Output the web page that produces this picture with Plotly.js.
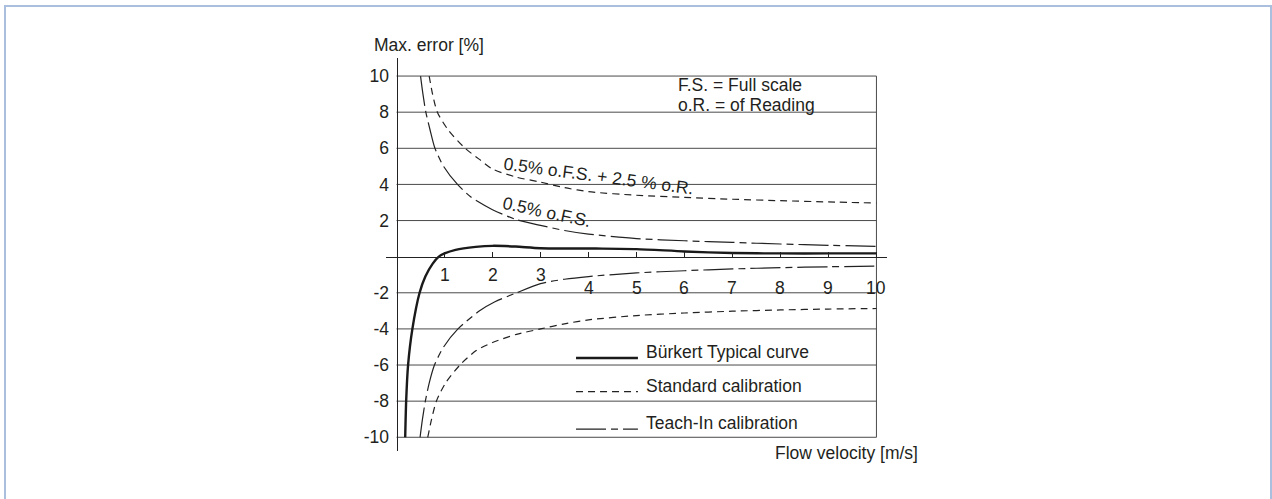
<!DOCTYPE html>
<html>
<head>
<meta charset="utf-8">
<script src="https://cdn.plot.ly/plotly-3.0.1.min.js"></script>
<style>
html,body{margin:0;padding:0;background:#fff;}
#chart{position:absolute;left:0;top:0;width:1272px;height:499px;}
#frame{position:absolute;left:4px;top:5px;width:1268px;height:520px;border:2px solid #a9bfdd;border-bottom:none;box-sizing:border-box;pointer-events:none;z-index:5;}
</style>
</head>
<body>
<div id="chart"></div>
<div id="frame"></div>
<script>
// ---- data ----
const seriesNames = ['Bürkert Typical curve', 'Standard calibration', 'Teach-In calibration'];

const burkertX = [0.18, 0.20, 0.24, 0.33, 0.48, 0.60, 0.75, 0.88, 1.00, 1.23, 1.65, 2.00, 2.48, 3.00, 4.15, 5.00, 6.00, 7.00, 8.00, 9.00, 10.00];
const burkertY = [-10, -8, -6, -4, -2, -1.1, -0.4, 0, 0.18, 0.38, 0.54, 0.60, 0.56, 0.47, 0.45, 0.42, 0.29, 0.20, 0.18, 0.18, 0.18];

const stdUpperX = [0.68, 0.75, 0.85, 1.08, 1.43, 1.72, 2.00, 2.50, 3.00, 3.50, 4.00, 5.00, 6.00, 7.00, 8.00, 9.00, 10.00];
const stdUpperY = [10, 9, 8, 7, 6, 5.4, 4.85, 4.4, 4.13, 3.82, 3.6, 3.4, 3.28, 3.18, 3.1, 3.03, 2.97];
const stdLowerX = [0.65, 0.73, 0.83, 1.02, 1.32, 1.66, 2.00, 2.50, 3.00, 3.50, 4.00, 5.00, 6.00, 7.00, 8.00, 9.00, 10.00];
const stdLowerY = [-10, -9, -8, -7, -6, -5.2, -4.75, -4.3, -4.0, -3.72, -3.5, -3.26, -3.12, -3.02, -2.95, -2.9, -2.87];

const teachUpperX = [0.50, 0.55, 0.61, 0.70, 0.80, 0.98, 1.27, 1.55, 2.00, 2.50, 3.00, 3.50, 4.00, 5.00, 6.00, 7.00, 8.00, 9.00, 10.00];
const teachUpperY = [10, 9, 8, 7, 6, 5, 4, 3.3, 2.6, 2.05, 1.73, 1.45, 1.25, 1.0, 0.88, 0.79, 0.70, 0.63, 0.57];
const teachLowerX = [0.49, 0.54, 0.60, 0.68, 0.79, 0.98, 1.28, 1.73, 2.05, 2.50, 3.00, 3.50, 4.00, 5.00, 6.00, 7.00, 8.00, 9.00, 10.00];
const teachLowerY = [-10, -9, -8, -7, -6, -5, -4, -3, -2.5, -2, -1.49, -1.25, -1.1, -0.9, -0.78, -0.68, -0.61, -0.56, -0.52];

const xTickVals = [1, 2, 3, 4, 5, 6, 7, 8, 9, 10];
const xTickText = ['1', '2', '3', '4', '5', '6', '7', '8', '9', '10'];
const yTickVals = [-10, -8, -6, -4, -2, 2, 4, 6, 8, 10];
const yTickText = ['-10', '-8', '-6', '-4', '-2', '2', '4', '6', '8', '10'];

const yTitle = 'Max. error [%]';
const xTitle = 'Flow velocity [m/s]';
const noteLines = ['F.S. = Full scale', 'o.R. = of Reading'];
const curveLabels = ['0.5% o.F.S. + 2.5 % o.R.', '0.5% o.F.S.'];

// ---- styling / layout ----
const FONT = 'Liberation Sans, Arial, Helvetica, sans-serif';
const INK = '#231f20';
const FS = 17.5;
const xRange = [-0.22, 10.22];
const yRange = [-10.76, 11.0];
const toPX = v => (v - xRange[0]) / (xRange[1] - xRange[0]);
const toPY = v => (v - yRange[0]) / (yRange[1] - yRange[0]);

const dashStd = '7px,5px';
const dashTeach = '30px,5px,7px,5px';
const spl = {shape: 'spline', smoothing: 0.7};

const traces = [
  {x: burkertX, y: burkertY, name: seriesNames[0], mode: 'lines',
   line: Object.assign({color: '#1a1a1a', width: 2.4}, spl)},
  {x: stdUpperX.concat([null], stdLowerX), y: stdUpperY.concat([null], stdLowerY), name: seriesNames[1], mode: 'lines',
   line: Object.assign({color: '#222', width: 1.2, dash: dashStd}, spl)},
  {x: teachUpperX.concat([null], teachLowerX), y: teachUpperY.concat([null], teachLowerY), name: seriesNames[2], mode: 'lines',
   line: Object.assign({color: '#222', width: 1.2, dash: dashTeach}, spl)}
];

const xEnd = xTickVals[xTickVals.length - 1];
const shapes = [];
yTickVals.forEach(v => {
  shapes.push({type: 'line', xref: 'x', yref: 'y', x0: 0, x1: xEnd, y0: v, y1: v,
               line: {color: '#4a4a4a', width: 1}, layer: 'below'});
});
shapes.push({type: 'line', xref: 'x', yref: 'y', x0: xEnd, x1: xEnd,
             y0: yTickVals[0], y1: yTickVals[yTickVals.length - 1], line: {color: '#4a4a4a', width: 1}, layer: 'below'});

// legend (drawn inside the plot like the reference)
const legendRows = [-5.61, -7.47, -9.55];
const legendStyles = [
  {color: '#1a1a1a', width: 2.4, dash: 'solid'},
  {color: '#222', width: 1.2, dash: dashStd},
  {color: '#222', width: 1.2, dash: dashTeach}
];
const legX0 = 3.74, legX1 = 5.03, legTextX = 5.16;

const txt = (o) => Object.assign({showarrow: false, font: {family: FONT, size: FS, color: INK}}, o);
const annotations = [];
legendRows.forEach((ry, i) => {
  shapes.push({type: 'line', xref: 'x', yref: 'y', x0: legX0, x1: legX1, y0: ry, y1: ry, line: legendStyles[i]});
  annotations.push(txt({x: legTextX, y: ry + 0.33, xref: 'x', yref: 'y', text: seriesNames[i], xanchor: 'left', yanchor: 'middle'}));
});

xTickVals.forEach((v, i) => {
  annotations.push(txt({x: v, y: v <= 3 ? -1.01 : -1.73, xref: 'x', yref: 'y', text: xTickText[i], xanchor: 'center', yanchor: 'middle'}));
});

annotations.push(txt({x: toPX(-0.51), y: toPY(11.72), xref: 'paper', yref: 'paper', text: yTitle, xanchor: 'left', yanchor: 'middle'}));
annotations.push(txt({x: toPX(7.85), y: toPY(-10.85), xref: 'paper', yref: 'paper', text: xTitle, xanchor: 'left', yanchor: 'middle'}));
annotations.push(txt({x: 5.83, y: 9.5, xref: 'x', yref: 'y', text: noteLines[0], xanchor: 'left', yanchor: 'middle'}));
annotations.push(txt({x: 5.83, y: 8.4, xref: 'x', yref: 'y', text: noteLines[1], xanchor: 'left', yanchor: 'middle'}));
annotations.push(txt({x: 4.21, y: 4.48, xref: 'x', yref: 'y', text: curveLabels[0], textangle: 7.5, xanchor: 'center', yanchor: 'middle'}));
annotations.push(txt({x: 3.13, y: 2.45, xref: 'x', yref: 'y', text: curveLabels[1], textangle: 12, xanchor: 'center', yanchor: 'middle'}));

const layout = {
  width: 1272, height: 499,
  margin: {l: 386, r: 385, t: 58, b: 48, pad: 0},
  paper_bgcolor: 'rgba(0,0,0,0)', plot_bgcolor: 'rgba(0,0,0,0)',
  showlegend: false,
  font: {family: FONT, size: FS, color: INK},
  xaxis: {
    range: xRange, showgrid: false, zeroline: false,
    showline: true, linecolor: '#222', linewidth: 1.2,
    anchor: 'free', position: toPY(0),
    ticks: 'inside', ticklen: 5, tickwidth: 1.2, tickcolor: '#222',
    tickvals: xTickVals, showticklabels: false, fixedrange: true
  },
  yaxis: {
    range: yRange, showgrid: false, zeroline: false,
    showline: true, linecolor: '#222', linewidth: 1.2,
    anchor: 'free', position: toPX(0),
    ticks: '', tickvals: yTickVals, ticktext: yTickText,
    tickfont: {family: FONT, size: FS, color: INK}, ticklabelstandoff: 4, fixedrange: true
  },
  shapes: shapes,
  annotations: annotations
};

Plotly.newPlot('chart', traces, layout, {displayModeBar: false, staticPlot: true});
</script>
</body>
</html>
